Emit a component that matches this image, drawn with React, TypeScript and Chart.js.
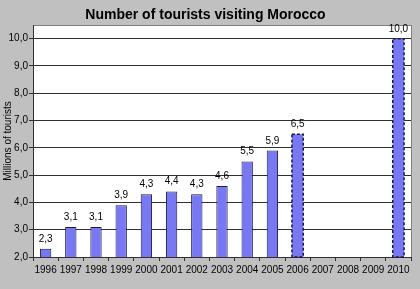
import React, { useEffect, useRef } from "react";
import { Chart, registerables } from "chart.js";

Chart.register(...registerables);

const years = ["1996","1997","1998","1999","2000","2001","2002","2003","2004","2005","2006","2007","2008","2009","2010"];
const tourists: (number | null)[] = [2.3, 3.1, 3.1, 3.9, 4.3, 4.4, 4.3, 4.6, 5.5, 5.9, 6.5, null, null, null, 10.0];
const projected = [false,false,false,false,false,false,false,false,false,false,true,false,false,false,true];
const chartTitle = "Number of tourists visiting Morocco";
const yTitle = "Millions of tourists";

const FONT = "Arial, 'Liberation Sans', sans-serif";
const fmt = (v: number) => v.toFixed(1).replace(".", ",");

export default function App() {
  const ref = useRef<HTMLCanvasElement>(null);
  useEffect(() => {
    document.body.style.margin = "0";
    const bgPlugin = {
      id: "bg",
      beforeDraw(chart: any) {
        const { ctx, chartArea: a, width, height } = chart;
        ctx.save();
        ctx.fillStyle = "#c0c0c0";
        ctx.fillRect(0, 0, width, height);
        ctx.fillStyle = "#ffffff";
        ctx.fillRect(a.left, a.top, a.right - a.left, a.bottom - a.top);
        ctx.strokeStyle = "#808080";
        ctx.lineWidth = 1;
        ctx.strokeRect(Math.round(a.left) + 0.5, Math.round(a.top) + 0.5, a.right - a.left, a.bottom - a.top);
        ctx.restore();
      },
    };
    const labelPlugin = {
      id: "lbl",
      afterDatasetsDraw(chart: any) {
        const { ctx, chartArea } = chart;
        const meta = chart.getDatasetMeta(0);
        ctx.save();
        meta.data.forEach((bar: any, i: number) => {
          const v = tourists[i];
          if (v == null) return;
          if (projected[i]) {
            const w = bar.width;
            const x0 = bar.x - w / 2;
            const bottom = Math.min(bar.base, chartArea.bottom);
            ctx.strokeStyle = "#1a1a4a";
            ctx.lineWidth = 1.5;
            ctx.setLineDash([3, 2]);
            ctx.strokeRect(x0, bar.y, w, bottom - bar.y);
            ctx.setLineDash([]);
          }
          ctx.fillStyle = "#000000";
          ctx.font = `10px ${FONT}`;
          ctx.textAlign = "center";
          ctx.textBaseline = "alphabetic";
          ctx.fillText(fmt(v), bar.x, bar.y - 7);
        });
        ctx.restore();
      },
    };
    const chart = new Chart(ref.current!, {
      type: "bar",
      data: {
        labels: years,
        datasets: [
          {
            data: tourists,
            backgroundColor: "#7878f2",
            borderColor: "#1a1a4a",
            borderWidth: projected.map((p) => (p ? 0 : 1)),
            barPercentage: 0.45,
            categoryPercentage: 1,
          },
        ],
      },
      options: {
        responsive: false,
        animation: false,
        layout: { padding: { left: 0, right: 9, top: 0, bottom: 0 } },
        plugins: {
          legend: { display: false },
          tooltip: { enabled: false },
          title: {
            display: true,
            text: chartTitle,
            color: "#000000",
            font: { family: FONT, size: 14, weight: "bold" },
            padding: { top: 7, bottom: 1.2 },
          },
        },
        scales: {
          x: {
            afterFit(scale: any) {
              scale.height = 32;
            },
            grid: {
              offset: true,
              drawOnChartArea: false,
              drawTicks: true,
              tickLength: 4,
              tickColor: "#303030",
            },
            border: { display: true, color: "#303030" },
            ticks: {
              color: "#000000",
              font: { family: FONT, size: 10 },
              padding: 3,
              maxRotation: 0,
              autoSkip: false,
            },
          },
          y: {
            min: 2,
            max: 10.5,
            afterFit(scale: any) {
              scale.width = 33;
            },
            afterBuildTicks(scale: any) {
              scale.ticks = scale.ticks.filter((t: any) => t.value <= 10.0001);
            },
            grid: {
              color: "#303030",
              lineWidth: 1,
              drawTicks: true,
              tickLength: 4,
              tickColor: "#303030",
            },
            border: { display: true, color: "#303030" },
            ticks: {
              stepSize: 1,
              color: "#000000",
              font: { family: FONT, size: 10 },
              padding: 1,
              callback: (v: any) => fmt(Number(v)),
            },
            title: {
              display: true,
              text: yTitle,
              color: "#000000",
              font: { family: FONT, size: 10 },
              padding: { top: 2, bottom: 0 },
            },
          },
        },
      },
      plugins: [bgPlugin, labelPlugin],
    });
    return () => chart.destroy();
  }, []);
  return <canvas ref={ref} width={420} height={289} style={{ display: "block" }} />;
}
